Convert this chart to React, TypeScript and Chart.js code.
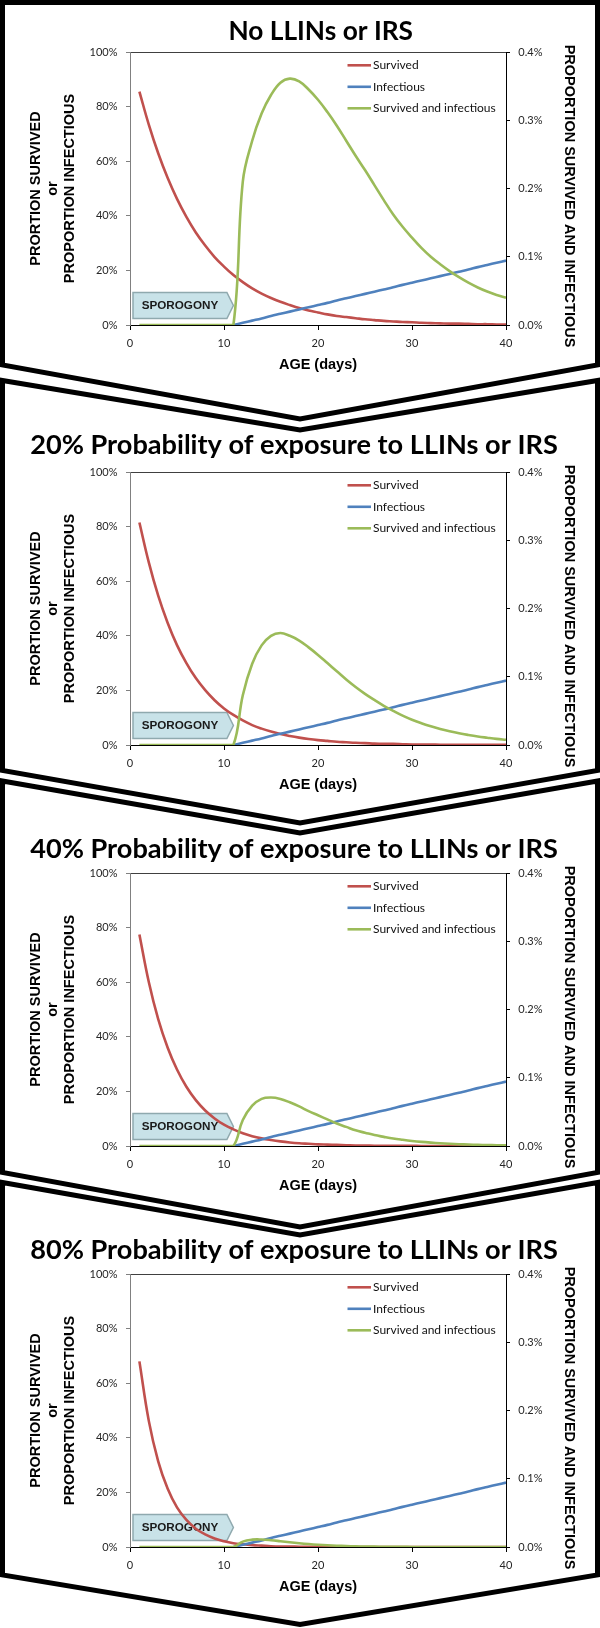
import React, { useEffect, useRef } from 'react';
import { Chart, registerables } from 'chart.js';

Chart.register(...registerables);

// ---------- DATA ----------
const DAYS = [1, 2, 3, 4, 5, 6, 7, 8, 9, 10, 11, 12, 13, 14, 15, 16, 17, 18, 19, 20,
  21, 22, 23, 24, 25, 26, 27, 28, 29, 30, 31, 32, 33, 34, 35, 36, 37, 38, 39, 40];

const INFECTIOUS_DAYS = [11, 12, 13, 14, 15, 16, 17, 18, 19, 20, 21, 22, 23, 24, 25,
  26, 27, 28, 29, 30, 31, 32, 33, 34, 35, 36, 37, 38, 39, 40];
const INFECTIOUS = [0, 0.8, 1.6, 2.4, 3.3, 4.1, 4.9, 5.7, 6.5, 7.3, 8.1, 9.0, 9.8, 10.6, 11.4,
  12.2, 13.0, 13.8, 14.7, 15.5, 16.3, 17.1, 17.9, 18.7, 19.5, 20.3, 21.2, 22.0, 22.8, 23.6];

const SURVIVED_NONE = [85.5, 73.4, 62.9, 53.9, 46.2, 39.6, 33.9, 29.1, 24.9, 21.4,
  18.3, 15.7, 13.4, 11.5, 9.9, 8.5, 7.3, 6.2, 5.3, 4.6,
  3.9, 3.3, 2.9, 2.5, 2.1, 1.8, 1.5, 1.3, 1.1, 1.0,
  0.8, 0.7, 0.6, 0.5, 0.5, 0.4, 0.3, 0.3, 0.2, 0.2];
const SURVIVED_20 = [81.5, 66.9, 54.7, 44.8, 36.6, 30.0, 24.5, 20.1, 16.4, 13.4,
  11.0, 9.0, 7.3, 6.0, 4.9, 4.0, 3.3, 2.7, 2.2, 1.8,
  1.5, 1.2, 1.0, 0.8, 0.7, 0.5, 0.4, 0.4, 0.3, 0.2,
  0.2, 0.2, 0.1, 0.1, 0.1, 0.1, 0.1, 0.1, 0.1, 0.1];
const SURVIVED_40 = [77.5, 60.1, 46.5, 36.1, 28.0, 21.7, 16.8, 13.0, 10.1, 7.8,
  6.1, 4.7, 3.6, 2.8, 2.2, 1.7, 1.3, 1.0, 0.8, 0.6,
  0.5, 0.4, 0.3, 0.2, 0.2, 0.1, 0.1, 0.1, 0.1, 0.1,
  0.0, 0.0, 0.0, 0.0, 0.0, 0.0, 0.0, 0.0, 0.0, 0.0];
const SURVIVED_80 = [68.0, 46.2, 31.4, 21.4, 14.5, 9.9, 6.7, 4.6, 3.1, 2.1,
  1.4, 1.0, 0.7, 0.5, 0.3, 0.2, 0.2, 0.1, 0.1, 0.1,
  0.0, 0.0, 0.0, 0.0, 0.0, 0.0, 0.0, 0.0, 0.0, 0.0,
  0.0, 0.0, 0.0, 0.0, 0.0, 0.0, 0.0, 0.0, 0.0, 0.0];

// survived and infectious (right axis, %)
const BOTH_NONE = [0, 0, 0, 0, 0, 0, 0, 0, 0, 0, 0,
  0.21, 0.27, 0.31, 0.337, 0.355, 0.361, 0.357, 0.345, 0.33, 0.312,
  0.292, 0.27, 0.248, 0.227, 0.205, 0.183, 0.162, 0.144, 0.128,
  0.113, 0.1, 0.089, 0.079, 0.07, 0.062, 0.055, 0.049, 0.044, 0.04];
const BOTH_20 = [0, 0, 0, 0, 0, 0, 0, 0, 0, 0, 0,
  0.073, 0.119, 0.146, 0.160, 0.164, 0.160, 0.153, 0.143, 0.132, 0.120,
  0.108, 0.096, 0.085, 0.075, 0.066, 0.0575, 0.050, 0.043, 0.037,
  0.032, 0.0276, 0.0236, 0.0202, 0.0172, 0.0147, 0.0125, 0.0107, 0.009, 0.0076];
const BOTH_40 = [0, 0, 0, 0, 0, 0, 0, 0, 0, 0, 0,
  0.038, 0.059, 0.069, 0.071, 0.069, 0.064, 0.058, 0.051, 0.045, 0.039,
  0.033, 0.028, 0.023, 0.0195, 0.016, 0.0134, 0.011, 0.0091, 0.0074,
  0.006, 0.0049, 0.004, 0.0032, 0.0026, 0.0021, 0.0017, 0.0014, 0.0011, 0.0009];
const BOTH_80 = [0, 0, 0, 0, 0, 0, 0, 0, 0, 0, 0,
  0.0079, 0.0108, 0.011, 0.010, 0.0085, 0.0069, 0.0055, 0.0043, 0.0033, 0.0025,
  0.0019, 0.0014, 0.001, 0.0007, 0.0005, 0.0004, 0.0003, 0.0002, 0.0001,
  0.0001, 0.0001, 0, 0, 0, 0, 0, 0, 0, 0];

const PANEL_TITLES = [
  'No LLINs or IRS',
  '20% Probability of exposure to LLINs or IRS',
  '40% Probability of exposure to LLINs or IRS',
  '80% Probability of exposure to LLINs or IRS',
];
const SURVIVED_SERIES = [SURVIVED_NONE, SURVIVED_20, SURVIVED_40, SURVIVED_80];
const BOTH_SERIES = [BOTH_NONE, BOTH_20, BOTH_40, BOTH_80];

const SERIES_LABELS = ['Survived', 'Infectious', 'Survived and infectious'];
const LEFT_TITLE = ['PRORTION SURVIVED', 'or', 'PROPORTION INFECTIOUS'];
const RIGHT_TITLE = 'PROPORTION SURVIVED AND INFECTIOUS';
const X_TITLE = 'AGE (days)';
const SPOROGONY_LABEL = 'SPOROGONY';
const SPOROGONY_END_DAY = 11;

const X_MIN = 0, X_MAX = 40, X_STEP = 10;
const Y_MIN = 0, Y_MAX = 100, Y_STEP = 20;
const Y2_MIN = 0, Y2_MAX = 0.4, Y2_STEP = 0.1;

// ---------- STYLE / LAYOUT ----------
const RED = '#c0504d';
const BLUE = '#4f81bd';
const GREEN = '#9bbb59';

const LAYOUT = [
  { top: 0, height: 426, plotTop: 52, plotBottom: 325, tL: 2.5, tC: 2.5, bL: 365, bC: 419, titleCx: 320.75, titleBase: 39.5, titleW: 184.5 },
  { top: 375, height: 455, plotTop: 97, plotBottom: 370, tL: 380.5, tC: 430, bL: 770.5, bC: 823, titleCx: 294, titleBase: 454, titleW: 528 },
  { top: 776, height: 457, plotTop: 97, plotBottom: 370, tL: 781, tC: 833, bL: 1172.5, bC: 1227, titleCx: 294, titleBase: 858.3, titleW: 528 },
  { top: 1178, height: 450, plotTop: 96, plotBottom: 369, tL: 1182.5, tC: 1235, bL: 1575, bC: 1624.5, titleCx: 294, titleBase: 1259.3, titleW: 528 },
];

const TICK_FONT = { family: 'Lato', size: 11 };
const AXIS_TITLE_FONT = { family: 'Liberation Sans', size: 14.5, weight: 'bold' as const, lineHeight: 1.17 };

function makeDecor(idx: number) {
  const L = LAYOUT[idx];
  return {
    id: 'decor' + idx,
    beforeDraw(chart: any) {
      const ctx = chart.ctx as CanvasRenderingContext2D;
      const T = L.top;
      ctx.save();
      ctx.strokeStyle = '#000';
      ctx.lineWidth = 5;
      ctx.lineJoin = 'miter';
      ctx.beginPath();
      ctx.moveTo(2.5, L.tL - T);
      ctx.lineTo(300, L.tC - T);
      ctx.lineTo(597.5, L.tL - T);
      ctx.lineTo(597.5, L.bL - T);
      ctx.lineTo(300, L.bC - T);
      ctx.lineTo(2.5, L.bL - T);
      ctx.closePath();
      ctx.stroke();
      ctx.restore();
    },
    beforeDatasetsDraw(chart: any) {
      const ctx = chart.ctx as CanvasRenderingContext2D;
      const xs = chart.scales.x;
      const ys = chart.scales.y;
      const x0 = xs.getPixelForValue(X_MIN) + 3;
      const tip = xs.getPixelForValue(SPOROGONY_END_DAY);
      const rr = tip - 6.5;
      const yb = ys.getPixelForValue(Y_MIN) - 6.5;
      const yt = yb - 26;
      const ym = (yt + yb) / 2;
      ctx.save();
      ctx.beginPath();
      ctx.moveTo(x0, yt);
      ctx.lineTo(rr, yt);
      ctx.lineTo(tip, ym);
      ctx.lineTo(rr, yb);
      ctx.lineTo(x0, yb);
      ctx.closePath();
      ctx.fillStyle = '#c8e2e8';
      ctx.fill();
      ctx.strokeStyle = '#8fa9ae';
      ctx.lineWidth = 1.5;
      ctx.stroke();
      ctx.fillStyle = '#1a1a1a';
      ctx.font = 'bold 11.7px "Liberation Sans"';
      ctx.textAlign = 'center';
      ctx.textBaseline = 'middle';
      ctx.fillText(SPOROGONY_LABEL, (x0 + rr) / 2, ym + 0.5);
      ctx.restore();
    },
    afterDraw(chart: any) {
      const ctx = chart.ctx as CanvasRenderingContext2D;
      const area = chart.chartArea;
      const T = L.top;
      ctx.save();
      // panel title
      const title = PANEL_TITLES[idx];
      ctx.font = 'bold 100px Lato';
      const w = ctx.measureText(title).width;
      const size = (100 * L.titleW) / w;
      ctx.font = `bold ${size}px Lato`;
      ctx.fillStyle = '#000';
      ctx.textAlign = 'center';
      ctx.textBaseline = 'alphabetic';
      ctx.fillText(title, L.titleCx, L.titleBase - T);

      // right axis title (rotated)
      ctx.save();
      ctx.translate(569, area.top + 144);
      ctx.rotate(Math.PI / 2);
      ctx.font = 'bold 14.5px "Liberation Sans"';
      ctx.textAlign = 'center';
      ctx.textBaseline = 'middle';
      ctx.fillText(RIGHT_TITLE, 0, 0);
      ctx.restore();

      // legend
      const rows = [13.3, 34.8, 56.3];
      chart.data.datasets.forEach((ds: any, i: number) => {
        const y = area.top + rows[i];
        ctx.strokeStyle = ds.borderColor;
        ctx.lineWidth = 2.6;
        ctx.beginPath();
        ctx.moveTo(347.5, y);
        ctx.lineTo(371, y);
        ctx.stroke();
        ctx.fillStyle = '#111';
        ctx.font = '12px Lato';
        ctx.textAlign = 'left';
        ctx.textBaseline = 'middle';
        ctx.fillText(ds.label, 373, y);
      });
      ctx.restore();
    },
  };
}

function Panel({ idx }: { idx: number }) {
  const ref = useRef<HTMLCanvasElement | null>(null);
  const L = LAYOUT[idx];
  useEffect(() => {
    if (!ref.current) return;
    const survived = SURVIVED_SERIES[idx];
    const both = BOTH_SERIES[idx];
    const chart = new Chart(ref.current, {
      type: 'line',
      data: {
        datasets: [
          {
            label: SERIES_LABELS[0],
            data: DAYS.map((d, i) => ({ x: d, y: survived[i] })),
            borderColor: RED,
            backgroundColor: RED,
            yAxisID: 'y',
            order: 2,
          },
          {
            label: SERIES_LABELS[1],
            data: INFECTIOUS_DAYS.map((d, i) => ({ x: d, y: INFECTIOUS[i] })),
            borderColor: BLUE,
            backgroundColor: BLUE,
            yAxisID: 'y',
            order: 1,
          },
          {
            label: SERIES_LABELS[2],
            data: DAYS.map((d, i) => ({ x: d, y: both[i] })),
            borderColor: GREEN,
            backgroundColor: GREEN,
            yAxisID: 'y2',
            order: 0,
          },
        ],
      },
      options: {
        animation: false,
        responsive: false,
        maintainAspectRatio: false,
        devicePixelRatio: 1,
        layout: {
          padding: { top: L.plotTop, bottom: L.height - L.plotBottom - 60, left: 0, right: 0 },
        },
        elements: {
          point: { radius: 0, hoverRadius: 0 },
          line: { tension: 0.4, borderWidth: 2.6, fill: false },
        },
        plugins: {
          legend: { display: false },
          tooltip: { enabled: false },
          title: { display: false },
        },
        scales: {
          x: {
            type: 'linear',
            position: 'bottom',
            min: X_MIN,
            max: X_MAX,
            ticks: { stepSize: X_STEP, font: TICK_FONT, color: '#262626', padding: 6.5, maxRotation: 0, autoSkip: false },
            grid: { display: true, drawOnChartArea: false, drawTicks: true, tickLength: 5, color: '#000' },
            border: { display: true, color: '#000', width: 1 },
            title: { display: true, text: X_TITLE, font: AXIS_TITLE_FONT, color: '#000', padding: { top: 0, bottom: 11.5 } },
            afterFit: (s: any) => { s.height = 60; },
          },
          xTop: {
            type: 'linear',
            position: 'top',
            min: X_MIN,
            max: X_MAX,
            ticks: { display: false },
            grid: { display: false, drawTicks: false },
            border: { display: true, color: '#404040', width: 1 },
            afterFit: (s: any) => { s.height = 0; },
          },
          y: {
            type: 'linear',
            position: 'left',
            min: Y_MIN,
            max: Y_MAX,
            ticks: { stepSize: Y_STEP, font: TICK_FONT, color: '#262626', padding: 8.5, callback: (v: any) => v + '%' },
            grid: { display: true, drawOnChartArea: false, drawTicks: true, tickLength: 4, color: '#808080' },
            border: { display: true, color: '#808080', width: 1 },
            title: { display: true, text: LEFT_TITLE, font: AXIS_TITLE_FONT, color: '#000', padding: { top: 27.5, bottom: 0 } },
            afterFit: (s: any) => { s.width = 130; },
          },
          y2: {
            type: 'linear',
            position: 'right',
            min: Y2_MIN,
            max: Y2_MAX,
            ticks: { stepSize: Y2_STEP, font: TICK_FONT, color: '#262626', padding: 8.3, callback: (v: any) => Number(v).toFixed(1) + '%' },
            grid: { display: true, drawOnChartArea: false, drawTicks: true, tickLength: 4, color: '#000' },
            border: { display: true, color: '#000', width: 1 },
            afterFit: (s: any) => { s.width = 94; },
          },
        },
      },
      plugins: [makeDecor(idx)],
    } as any);
    return () => chart.destroy();
  }, [idx]);
  return (
    <canvas
      ref={ref}
      width={600}
      height={L.height}
      style={{ position: 'absolute', left: 0, top: L.top, width: 600, height: L.height }}
    />
  );
}

export default function App() {
  return (
    <div style={{ position: 'absolute', left: 0, top: 0, width: 600, height: 1628, background: '#fff', overflow: 'hidden' }}>
      {[0, 1, 2, 3].map((i) => (
        <Panel key={i} idx={i} />
      ))}
    </div>
  );
}
